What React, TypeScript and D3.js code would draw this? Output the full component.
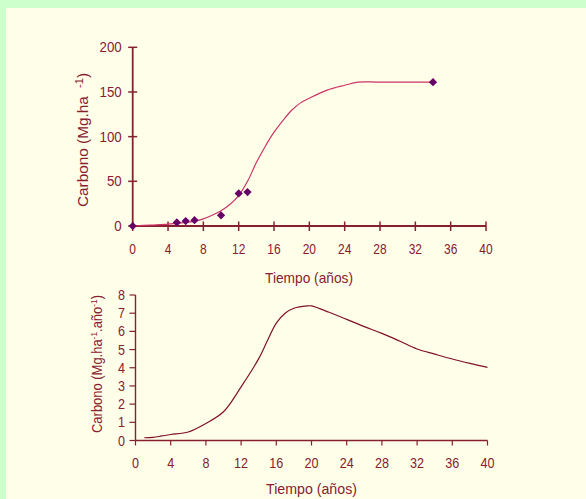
import React from 'react';
import * as d3 from 'd3';

// ---- Data ----
const stockYears = [0, 5, 6, 7, 10, 12, 13, 34];
const stockValues = [0, 4, 5.5, 6.5, 12, 36.5, 38, 161];
const fitYears = [0, 2, 4, 5, 6, 7, 8, 9, 10, 11, 12, 13, 14, 15, 16, 17, 18, 19, 20, 22, 24, 25.5, 28, 34];
const fitValues = [0, 1, 2, 3, 4, 5.5, 8, 12, 17, 24, 34, 50, 71, 89, 105, 118, 129.5, 137.8, 143, 152, 157.5, 161, 161, 161];
const rateYears = [1, 2, 3, 4, 6, 8, 10, 12, 14, 15, 16, 17, 18, 19.5, 20, 22, 24, 26, 28, 30, 32, 34, 36, 38, 40];
const rateValues = [0.15, 0.17, 0.25, 0.33, 0.47, 0.94, 1.58, 2.95, 4.5, 5.5, 6.45, 7.0, 7.27, 7.4, 7.4, 7.05, 6.66, 6.26, 5.89, 5.47, 5.03, 4.75, 4.48, 4.24, 4.02];
const xTicks = [0, 4, 8, 12, 16, 20, 24, 28, 32, 36, 40];
const topYTicks = [0, 50, 100, 150, 200];
const botYTicks = [0, 1, 2, 3, 4, 5, 6, 7, 8];
const xTitle = 'Tiempo (años)';

const W = 586, H = 499;
const AX = '#86202f';
const FONT = 'Liberation Sans, Arial, sans-serif';

export default function App() {
  // top chart scales
  const xT = d3.scaleLinear().domain([0, 40]).range([132.7, 486]);
  const yT = d3.scaleLinear().domain([0, 200]).range([226, 47.3]);
  // bottom chart scales
  const xB = d3.scaleLinear().domain([0, 40]).range([135.5, 487.5]);
  const yB = d3.scaleLinear().domain([0, 8]).range([440.5, 295]);

  const fitLine = d3.line<number>().x((d, i) => xT(fitYears[i])).y((d) => yT(d)).curve(d3.curveCatmullRom.alpha(0.5));
  const rateLine = d3.line<number>().x((d, i) => xB(rateYears[i])).y((d) => yB(d)).curve(d3.curveCatmullRom.alpha(0.5));
  const diamond = d3.symbol().type(d3.symbolSquare).size(34)();

  const tl = (x: number, y: number, s: string, fs: number, sx: number, anchor: string, key?: any) => (
    <text key={key} transform={`translate(${x},${y + fs * 0.36}) scale(${sx},1)`} textAnchor={anchor}
      fontSize={fs} fill={AX} fontFamily={FONT}>{s}</text>
  );

  return (
    <svg width={W} height={H} style={{ position: 'absolute', left: 0, top: 0, display: 'block' }}>
      <rect x={0} y={0} width={W} height={H} fill="#ffffe9" />
      <rect x={0} y={0} width={W} height={8} fill="#ccffcc" />
      <rect x={0} y={0} width={6} height={H} fill="#ccffcc" />

      {/* ---------- Top chart ---------- */}
      <g>
        <line x1={xT(0)} x2={xT(0)} y1={yT(200)} y2={yT(0)} stroke={AX} strokeWidth={1.8} />
        <line x1={xT(0)} x2={xT(40)} y1={yT(0)} y2={yT(0)} stroke={AX} strokeWidth={1.8} />
        {topYTicks.map((t) => (
          <g key={'ty' + t}>
            <line x1={xT(0) - 4.5} x2={xT(0) + 4.5} y1={yT(t)} y2={yT(t)} stroke={AX} strokeWidth={1.5} />
            {tl(121.7, yT(t), String(t), 14, 0.95, 'end')}
          </g>
        ))}
        {xTicks.map((t) => (
          <g key={'tx' + t}>
            <line x1={xT(t)} x2={xT(t)} y1={yT(0) - 4.5} y2={yT(0) + 5} stroke={AX} strokeWidth={1.5} />
            {tl(xT(t), 248.5, String(t), 15, 0.8, 'middle')}
          </g>
        ))}
        <path d={fitLine(fitValues) || ''} fill="none" stroke="#cc3366" strokeWidth={1.2} />
        {stockYears.map((yr, i) => (
          <path key={'m' + i} d={diamond || ''} transform={`translate(${xT(yr)},${yT(stockValues[i])}) rotate(45)`} fill="#660066" />
        ))}
        <text x={309} y={283} textAnchor="middle" fontSize={15} fill={AX} fontFamily={FONT}
          textLength={88} lengthAdjust="spacingAndGlyphs">{xTitle}</text>
        <text transform="translate(88,140) rotate(-90)" textAnchor="middle" fontSize={15} fill={AX} fontFamily={FONT}
          textLength={134} lengthAdjust="spacingAndGlyphs">
          Carbono (Mg.ha<tspan dx={8} dy={-5} fontSize={11}>-1</tspan><tspan dy={5}>)</tspan>
        </text>
      </g>

      {/* ---------- Bottom chart ---------- */}
      <g>
        <line x1={xB(0)} x2={xB(0)} y1={yB(8)} y2={yB(0)} stroke={AX} strokeWidth={1.4} />
        <line x1={xB(0)} x2={xB(40)} y1={yB(0)} y2={yB(0)} stroke={AX} strokeWidth={1.4} />
        {botYTicks.map((t) => (
          <g key={'by' + t}>
            <line x1={xB(0) - 6} x2={xB(0)} y1={yB(t)} y2={yB(t)} stroke={AX} strokeWidth={1.2} />
            {tl(125, yB(t), String(t), 14, 0.9, 'end')}
          </g>
        ))}
        {xTicks.map((t) => (
          <g key={'bx' + t}>
            <line x1={xB(t)} x2={xB(t)} y1={yB(0)} y2={yB(0) + 5} stroke={AX} strokeWidth={1.2} />
            {tl(xB(t), 462.5, String(t), 14, 0.9, 'middle')}
          </g>
        ))}
        <path d={rateLine(rateValues) || ''} fill="none" stroke="#80102a" strokeWidth={1.2} />
        <text x={311.5} y={494} textAnchor="middle" fontSize={14} fill={AX} fontFamily={FONT}
          textLength={91} lengthAdjust="spacingAndGlyphs">{xTitle}</text>
        <text transform="translate(102,364) rotate(-90)" textAnchor="middle" fontSize={14} fill={AX} fontFamily={FONT}
          textLength={138} lengthAdjust="spacingAndGlyphs">
          Carbono (Mg.ha<tspan dy={-5} fontSize={9}>-1</tspan><tspan dy={5}>.año</tspan><tspan dy={-5} fontSize={9}>-1</tspan><tspan dy={5}>)</tspan>
        </text>
      </g>
    </svg>
  );
}
